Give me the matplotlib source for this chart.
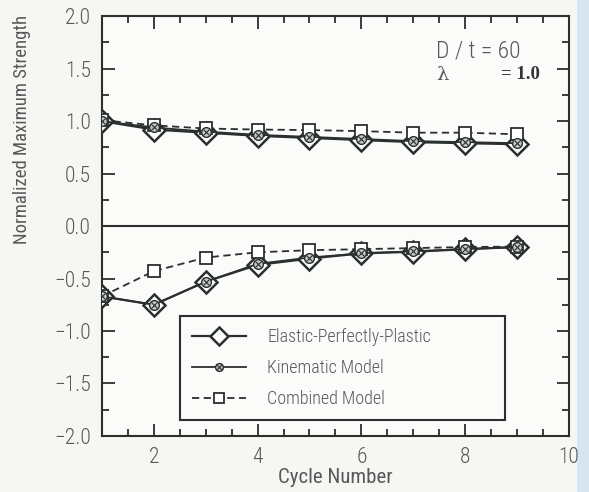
import matplotlib
matplotlib.use("Agg")
import matplotlib.pyplot as plt
from matplotlib.ticker import MultipleLocator
from matplotlib.patches import Rectangle
from matplotlib.legend_handler import HandlerTuple

# cycle numbers and normalized strengths (tension > 0, compression < 0)
cycles = [1, 2, 3, 4, 5, 6, 7, 8, 9]
epp_tension = [1.00, 0.92, 0.89, 0.86, 0.84, 0.82, 0.80, 0.79, 0.78]
kin_tension = [1.00, 0.94, 0.90, 0.87, 0.85, 0.83, 0.81, 0.80, 0.79]
comb_tension = [1.01, 0.96, 0.93, 0.92, 0.915, 0.905, 0.89, 0.89, 0.875]
epp_compr = [-0.67, -0.75, -0.53, -0.37, -0.31, -0.26, -0.245, -0.22, -0.20]
kin_compr = [-0.67, -0.75, -0.53, -0.36, -0.30, -0.26, -0.24, -0.22, -0.20]
comb_compr = [-0.67, -0.43, -0.30, -0.25, -0.23, -0.22, -0.21, -0.20, -0.195]

labels = ["Elastic-Perfectly-Plastic", "Kinematic Model", "Combined Model"]
x_ticks = [2, 4, 6, 8, 10]
y_ticks = [-2.0, -1.5, -1.0, -0.5, 0.0, 0.5, 1.0, 1.5, 2.0]

ink = "#2a302e"
grey_text = "#55595a"
plt.rcParams["font.family"] = ["Roboto Condensed", "DejaVu Sans"]
plt.rcParams["font.weight"] = 300

fig = plt.figure(figsize=(5.89, 4.92), dpi=100, facecolor="#f6f6f3")
ax = fig.add_axes([0.173, 0.114, 0.793, 0.853])
ax.set_facecolor("#fbfbf9")

# pale blue strip along the right edge of the sheet
fig.patches.append(Rectangle((0.98, 0), 0.02, 1, transform=fig.transFigure,
                             facecolor="#d6e5ef", edgecolor="none", zorder=-1))

ax.axhline(0, color=ink, lw=1.5, zorder=1)

for ep, kn, cb in [(epp_tension, kin_tension, comb_tension),
                   (epp_compr, kin_compr, comb_compr)]:
    h_epp, = ax.plot(cycles, ep, color=ink, lw=1.6, marker="D", ms=11,
                     mfc="white", mec=ink, mew=1.8, zorder=3)
    h_comb, = ax.plot(cycles, cb, color=ink, lw=1.3, ls=(0, (4, 2.5)),
                      marker="s", ms=9, mfc="white", mec=ink, mew=1.3, zorder=4)
    h_kin, = ax.plot(cycles, kn, color=ink, lw=1.3, marker="o", ms=7,
                     mfc="#c8c8c4", mec=ink, mew=1.0, zorder=5)
    h_kx, = ax.plot(cycles, kn, ls="none", marker="x", ms=5, mec=ink,
                    mew=0.8, zorder=6)

ax.set_xlim(1, 10)
ax.set_ylim(-2.0, 2.0)
ax.set_xticks(x_ticks)
ax.set_yticks(y_ticks)
ax.set_yticklabels([f"{v:.1f}".replace("-", "\u2212") for v in y_ticks])
ax.xaxis.set_minor_locator(MultipleLocator(0.5))
ax.yaxis.set_minor_locator(MultipleLocator(0.25))
ax.tick_params(which="both", direction="in", top=True, right=True,
               color=ink, width=1.3, labelsize=15.5, labelcolor=grey_text)
ax.tick_params(which="major", length=9, pad=8)
ax.tick_params(which="minor", length=5)
for s in ax.spines.values():
    s.set_color(ink)
    s.set_linewidth(1.5)

ax.set_xlabel("Cycle Number", fontsize=15, color=grey_text, labelpad=0)
ax.set_ylabel("Normalized Maximum Strength", fontsize=13.5, color=grey_text)
ax.yaxis.set_label_coords(-0.152, 0.73)

ax.text(0.715, 0.918, "D / t = 60", transform=ax.transAxes, fontsize=17,
        color=grey_text, va="center")
ax.text(0.715, 0.86, "\u03bb", transform=ax.transAxes, fontsize=14,
        color=grey_text, family="DejaVu Serif", va="center")
ax.text(0.855, 0.86, "= 1.0", transform=ax.transAxes, fontsize=13.5,
        color="#333", family="Liberation Serif", fontweight="bold",
        va="center")

leg = ax.legend([h_epp, (h_kin, h_kx), h_comb], labels,
                handler_map={tuple: HandlerTuple(ndivide=1)},
                loc="lower left", bbox_to_anchor=(0.167, 0.038, 0.696, 0.245),
                mode="expand", borderaxespad=0, fontsize=13,
                handlelength=3.0, handletextpad=1.2, labelspacing=0.72,
                borderpad=0.65, fancybox=False, framealpha=1,
                facecolor="#fbfbf9", edgecolor=ink, labelcolor=grey_text,
                markerscale=0.8)
leg.get_frame().set_linewidth(1.5)

fig.savefig("out.png", dpi=100, facecolor=fig.get_facecolor())
